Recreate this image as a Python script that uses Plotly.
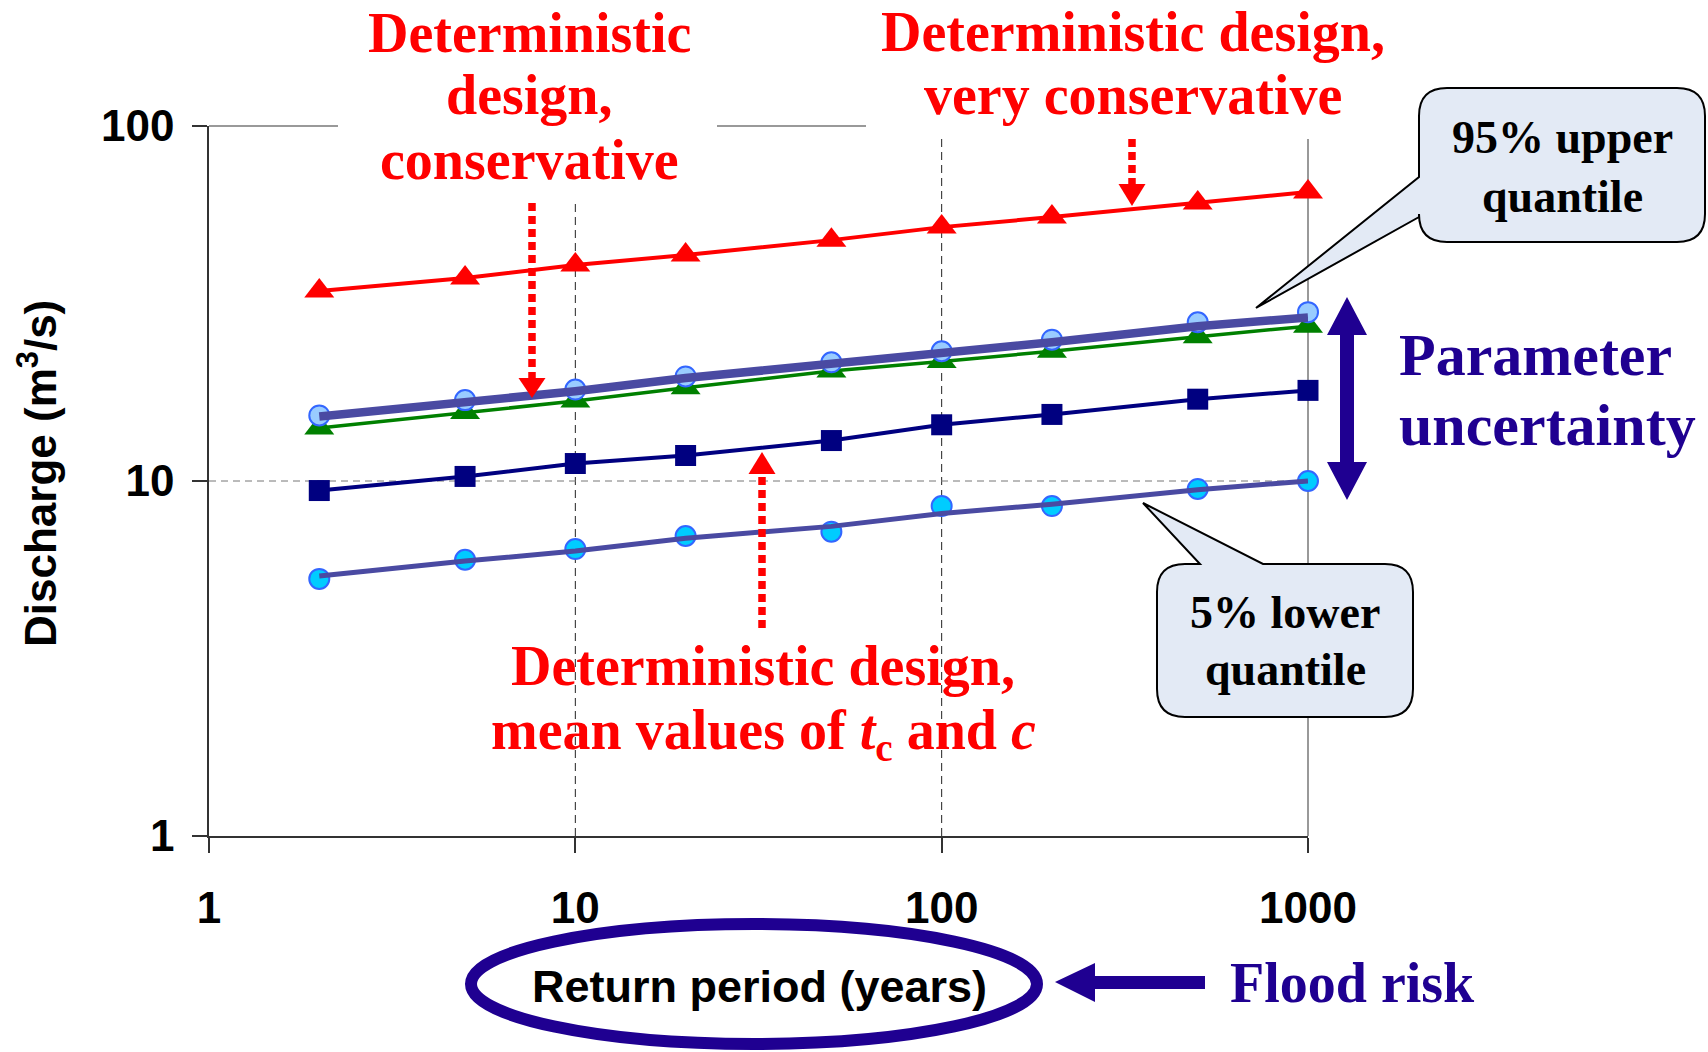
import plotly.graph_objects as go

# ---- data: design discharge (m3/s) versus return period (years) ----
return_period = [2, 5, 10, 20, 50, 100, 200, 500, 1000]

q_very_conservative = [34.3, 37.3, 40.6, 43.3, 47.7, 51.9, 55.4, 60.7, 65.2]
q_conservative = [14.1, 15.6, 16.8, 18.3, 20.4, 21.7, 23.2, 25.5, 27.3]
q_mean_values = [9.4, 10.3, 11.2, 11.8, 13.0, 14.4, 15.4, 17.0, 18.0]

q_upper_points = [15.3, 16.9, 18.1, 19.7, 21.6, 23.2, 25.0, 28.0, 29.9]
q_upper_curve = [15.2, 16.7, 17.9, 19.5, 21.3, 22.9, 24.6, 27.3, 28.9]
q_lower_points = [5.3, 6.0, 6.43, 7.0, 7.2, 8.5, 8.5, 9.5, 10.0]
q_lower_curve = [5.4, 5.95, 6.35, 6.9, 7.45, 8.1, 8.6, 9.45, 10.0]

x_ticks = [1, 10, 100, 1000]
y_ticks = [1, 10, 100]
x_grid = [10, 100]
y_grid = [10]

# ---- page geometry (pixels) ----
FIG_W, FIG_H = 1708, 1052
PL, PR, PT, PB = 209, 1308, 126, 836

RED = "#FF0000"
DARK_BLUE = "#1F0091"
NAVY = "#000080"
GREEN = "#008000"
QUANT = "#4A4AA2"
SERIF = "Liberation Serif, Times New Roman, serif"
SANS = "Liberation Sans, Arial, sans-serif"


def fx(p):
    return (p - PL) / (PR - PL)


def fy(p):
    return (PB - p) / (PB - PT)


def svg_path(cmds):
    # every point gets its own command letter so each pair is mapped as x,y
    parts = []
    for c, pts in cmds:
        if c == "Q":
            (ax, ay), (bx, by) = pts
            parts.append(f"Q{fx(ax):.5f},{fy(ay):.5f} {fx(bx):.5f},{fy(by):.5f}")
        else:
            for x, y in pts:
                parts.append(f"{c}{fx(x):.5f},{fy(y):.5f}")
                if c == "M":
                    c = "L"
    return " ".join(parts) + " Z"


fig = go.Figure()

# ---- series ----
fig.add_trace(go.Scatter(
    x=return_period, y=q_very_conservative, mode="lines+markers", cliponaxis=False,
    line=dict(color=RED, width=4),
    marker=dict(symbol="triangle-up", size=26, color=RED)))
fig.add_trace(go.Scatter(
    x=return_period, y=q_conservative, mode="lines+markers", cliponaxis=False,
    line=dict(color=GREEN, width=3.5),
    marker=dict(symbol="triangle-up", size=26, color=GREEN)))
fig.add_trace(go.Scatter(
    x=return_period, y=q_mean_values, mode="lines+markers", cliponaxis=False,
    line=dict(color=NAVY, width=4),
    marker=dict(symbol="square", size=21, color=NAVY)))
fig.add_trace(go.Scatter(
    x=return_period, y=q_upper_points, mode="markers", cliponaxis=False,
    marker=dict(symbol="circle", size=20, color="#99CCFF",
                line=dict(color="#3366FF", width=2))))
fig.add_trace(go.Scatter(
    x=return_period, y=q_lower_points, mode="markers", cliponaxis=False,
    marker=dict(symbol="circle", size=20, color="#00CCFF",
                line=dict(color="#3366FF", width=2))))
fig.add_trace(go.Scatter(
    x=return_period, y=q_upper_curve, mode="lines", cliponaxis=False,
    line=dict(color=QUANT, width=8.5)))
fig.add_trace(go.Scatter(
    x=return_period, y=q_lower_curve, mode="lines", cliponaxis=False,
    line=dict(color=QUANT, width=5)))

shapes = []

# grid lines and plot frame
for gx in x_grid:
    shapes.append(dict(type="line", xref="x", yref="paper", x0=gx, x1=gx, y0=0, y1=1,
                       line=dict(color="#222222", width=1, dash="8px,5px"), layer="below"))
for gy in y_grid:
    shapes.append(dict(type="line", xref="paper", yref="y", x0=0, x1=1, y0=gy, y1=gy,
                       line=dict(color="#777777", width=1, dash="7px,5px"), layer="below"))
shapes.append(dict(type="line", xref="paper", yref="paper", x0=0, x1=1, y0=1, y1=1,
                   line=dict(color="#999999", width=2), layer="below"))
shapes.append(dict(type="line", xref="paper", yref="paper", x0=1, x1=1, y0=0, y1=1,
                   line=dict(color="#999999", width=2), layer="below"))

# white backing behind the two upper headings
for x0, x1, y1 in [(338, 717, 203), (866, 1405, 139)]:
    shapes.append(dict(type="rect", xref="paper", yref="paper",
                       x0=fx(x0), x1=fx(x1), y0=fy(y1), y1=fy(-10),
                       fillcolor="white", line=dict(width=0), layer="below"))

# red dashed pointer arrows: (x, shaft start, head base, tip)
for ax, y_start, y_base, y_tip in [(532, 203, 378, 398), (762, 628, 474, 452), (1132, 139, 184, 206)]:
    shapes.append(dict(type="line", xref="paper", yref="paper",
                       x0=fx(ax), x1=fx(ax), y0=fy(y_start), y1=fy(y_base),
                       line=dict(color=RED, width=7.5, dash="8px,5px"), layer="above"))
    shapes.append(dict(type="path", xref="paper", yref="paper",
                       path=svg_path([("M", [(ax - 13.5, y_base)]), ("L", [(ax + 13.5, y_base), (ax, y_tip)])]),
                       fillcolor=RED, line=dict(width=0), layer="above"))

# double-headed arrow for parameter uncertainty
cx = 1347
shapes.append(dict(type="path", xref="paper", yref="paper",
                   path=svg_path([("M", [(cx, 297)]),
                                  ("L", [(cx + 20, 335), (cx + 7, 335), (cx + 7, 462), (cx + 20, 462),
                                         (cx, 500), (cx - 20, 462), (cx - 7, 462), (cx - 7, 335),
                                         (cx - 20, 335)])]),
                   fillcolor=DARK_BLUE, line=dict(width=0), layer="above"))

# arrow pointing at the return period
shapes.append(dict(type="path", xref="paper", yref="paper",
                   path=svg_path([("M", [(1055, 982)]),
                                  ("L", [(1095, 963), (1095, 976), (1205, 976), (1205, 989),
                                         (1095, 989), (1095, 1002)])]),
                   fillcolor=DARK_BLUE, line=dict(width=0), layer="above"))

# ellipse around the x-axis title
shapes.append(dict(type="circle", xref="paper", yref="paper",
                   x0=fx(471), x1=fx(1037), y0=fy(1044), y1=fy(924),
                   line=dict(color=DARK_BLUE, width=12), layer="above"))

# callout boxes
CALLOUT_FILL = "#E3EAF5"
r = 28
x0, y0, x1, y1 = 1419, 88, 1705, 242
shapes.append(dict(type="path", xref="paper", yref="paper",
                   path=svg_path([("M", [(x0 + r, y0)]), ("L", [(x1 - r, y0)]),
                                  ("Q", [(x1, y0), (x1, y0 + r)]), ("L", [(x1, y1 - r)]),
                                  ("Q", [(x1, y1), (x1 - r, y1)]), ("L", [(x0 + r, y1)]),
                                  ("Q", [(x0, y1), (x0, y1 - r)]),
                                  ("L", [(x0, 217), (1256, 308), (x0, 177), (x0, y0 + r)]),
                                  ("Q", [(x0, y0), (x0 + r, y0)])]),
                   fillcolor=CALLOUT_FILL, line=dict(color="black", width=2), layer="above"))
x0, y0, x1, y1 = 1157, 564, 1413, 717
shapes.append(dict(type="path", xref="paper", yref="paper",
                   path=svg_path([("M", [(x0 + r, y0)]),
                                  ("L", [(1200, y0), (1143, 503), (1263, y0), (x1 - r, y0)]),
                                  ("Q", [(x1, y0), (x1, y0 + r)]), ("L", [(x1, y1 - r)]),
                                  ("Q", [(x1, y1), (x1 - r, y1)]), ("L", [(x0 + r, y1)]),
                                  ("Q", [(x0, y1), (x0, y1 - r)]), ("L", [(x0, y0 + r)]),
                                  ("Q", [(x0, y0), (x0 + r, y0)])]),
                   fillcolor=CALLOUT_FILL, line=dict(color="black", width=2), layer="above"))

# ---- text ----
annotations = []


def label(text, x, y, size, color, family, xanchor="center", angle=0):
    annotations.append(dict(text=text, xref="paper", yref="paper", x=fx(x), y=fy(y),
                            xanchor=xanchor, yanchor="middle", showarrow=False,
                            textangle=angle,
                            font=dict(family=family, size=size, color=color, weight="bold")))


for txt, y in [("Deterministic", 33), ("design,", 95), ("conservative", 160)]:
    label(txt, 529, y, 56, RED, SERIF)
for txt, y in [("Deterministic design,", 32), ("very conservative", 95)]:
    label(txt, 1133, y, 56, RED, SERIF)
label("Deterministic design,", 763, 666, 56, RED, SERIF)
label("mean values of <i>t</i><sub>c</sub> and <i>c</i>", 763, 734, 56, RED, SERIF)

label("95% upper", 1562, 137, 46, "black", SERIF)
label("quantile", 1562, 196, 46, "black", SERIF)
label("5% lower", 1285, 612, 46, "black", SERIF)
label("quantile", 1285, 669, 46, "black", SERIF)

label("Parameter", 1397, 355, 60, DARK_BLUE, SERIF, xanchor="left")
label("uncertainty", 1397, 425, 60, DARK_BLUE, SERIF, xanchor="left")
label("Flood risk", 1228, 983, 56, DARK_BLUE, SERIF, xanchor="left")

label("Return period (years)", 759, 986, 45, "black", SANS)
label("Discharge (m<sup>3</sup>/s)", 37, 474, 44, "black", SANS, angle=-90)

tick_font = dict(family=SANS, size=44, color="black", weight="bold")

fig.update_layout(
    width=FIG_W, height=FIG_H,
    margin=dict(l=PL, r=FIG_W - PR, t=PT, b=FIG_H - PB, pad=0, autoexpand=False),
    paper_bgcolor="white", plot_bgcolor="rgba(0,0,0,0)",
    showlegend=False,
    xaxis=dict(type="log", range=[0, 3], tickvals=x_ticks, ticktext=[str(v) for v in x_ticks],
               ticks="outside", ticklen=15, tickwidth=1.5, tickcolor="#333333",
               showline=True, linecolor="#333333", linewidth=1.5,
               showgrid=False, zeroline=False, automargin=False,
               tickfont=tick_font, ticklabelstandoff=17),
    yaxis=dict(type="log", range=[0, 2], tickvals=y_ticks, ticktext=[str(v) for v in y_ticks],
               ticks="outside", ticklen=15, tickwidth=1.5, tickcolor="#333333",
               showline=True, linecolor="#333333", linewidth=1.5,
               showgrid=False, zeroline=False, automargin=False,
               tickfont=tick_font, ticklabelstandoff=9),
    shapes=shapes,
    annotations=annotations,
)

fig.write_html("out.html")
